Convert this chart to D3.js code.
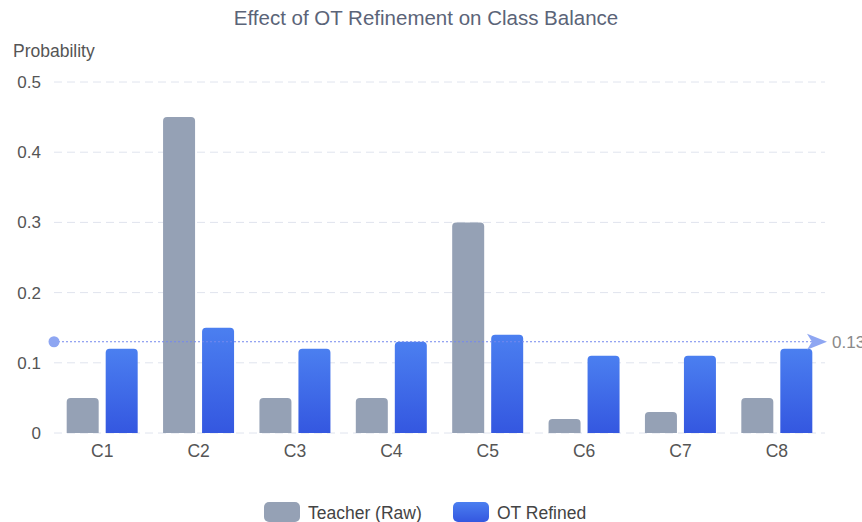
<!DOCTYPE html>
<html>
<head>
<meta charset="utf-8">
<script src="https://cdn.jsdelivr.net/npm/d3@7"></script>
<style>
  body { margin: 0; background: #fff; font-family: "Helvetica Neue", "Liberation Sans", Arial, sans-serif; }
  svg { display: block; }
</style>
</head>
<body>
<div id="graf"></div>
<script>
// datos
const categorias = ['C1', 'C2', 'C3', 'C4', 'C5', 'C6', 'C7', 'C8']
const teacher = [0.05, 0.45, 0.05, 0.05, 0.30, 0.02, 0.03, 0.05]
const refinado = [0.12, 0.15, 0.12, 0.13, 0.14, 0.11, 0.11, 0.12]
const ticksY = [0, 0.1, 0.2, 0.3, 0.4, 0.5]
const lineaMedia = 0.13
const series = ['Teacher (Raw)', 'OT Refined']

// configuración
const ancho_total = 862, alto_total = 522
const margins = { top: 82, left: 54, right: 37, bottom: 89 }
const ancho = ancho_total - margins.left - margins.right
const alto = alto_total - margins.top - margins.bottom
const fuente = '"Helvetica Neue", "Liberation Sans", Arial, sans-serif'

const svg = d3.select('#graf').append('svg')
  .attr('width', ancho_total).attr('height', alto_total)

const defs = svg.append('defs')
const grad = defs.append('linearGradient').attr('id', 'azul')
  .attr('x1', 0).attr('y1', 0).attr('x2', 0).attr('y2', 1)
grad.append('stop').attr('offset', '0%').attr('stop-color', '#4b7ff0')
grad.append('stop').attr('offset', '100%').attr('stop-color', '#3457e0')

const g = svg.append('g').attr('transform', `translate(${margins.left},${margins.top})`)

const x = d3.scaleBand().domain(categorias).range([0, ancho])
const y = d3.scaleLinear().domain([0, 0.5]).range([alto, 0])

// título
svg.append('text')
  .attr('x', ancho_total / 2 - 5).attr('y', 25)
  .attr('text-anchor', 'middle')
  .attr('font-size', '20.5px').attr('fill', '#5b6478')
  .text('Effect of OT Refinement on Class Balance')

svg.append('text')
  .attr('x', 13).attr('y', 57)
  .attr('font-size', '17.5px').attr('fill', '#555')
  .text('Probability')

// grid
g.selectAll('.grid').data(ticksY).enter().append('line')
  .attr('x1', 0).attr('x2', ancho)
  .attr('y1', d => y(d)).attr('y2', d => y(d))
  .attr('stroke', '#e0e4ee').attr('stroke-dasharray', '8,5').attr('stroke-width', 1)

// eje Y
const yAxis = d3.axisLeft(y).tickValues(ticksY).tickSize(0).tickPadding(13)
  .tickFormat(d => d === 0 ? '0' : d3.format('.1f')(d))
g.append('g').call(yAxis)
  .call(s => s.select('.domain').remove())
  .selectAll('text').attr('font-size', '17px').attr('fill', '#555')
  .attr('font-family', fuente)

// eje X
const xAxis = d3.axisBottom(x).tickSize(0).tickPadding(12)
g.append('g').attr('transform', `translate(0,${alto})`).call(xAxis)
  .call(s => s.select('.domain').remove())
  .selectAll('text').attr('font-size', '17.5px').attr('fill', '#555')
  .attr('font-family', fuente)

// barras
const bw = 32, gap = 7
function barPath(x0, y0, w, h, r) {
  r = Math.min(r, h, w / 2)
  return `M${x0},${y0 + h}V${y0 + r}Q${x0},${y0} ${x0 + r},${y0}H${x0 + w - r}Q${x0 + w},${y0} ${x0 + w},${y0 + r}V${y0 + h}Z`
}
const datos = categorias.map((c, i) => ({ c, t: teacher[i], o: refinado[i] }))
const cx = d => x(d.c) + x.bandwidth() / 2

g.selectAll('.bt').data(datos).enter().append('path')
  .attr('d', d => barPath(cx(d) - gap / 2 - bw, y(d.t), bw, alto - y(d.t), 4))
  .attr('fill', '#95a1b5')

g.selectAll('.bo').data(datos).enter().append('path')
  .attr('d', d => barPath(cx(d) + gap / 2, y(d.o), bw, alto - y(d.o), 4))
  .attr('fill', 'url(#azul)')

// línea media
const ym = y(lineaMedia)
g.append('line').attr('x1', 0).attr('x2', ancho - 8)
  .attr('y1', ym).attr('y2', ym)
  .attr('stroke', '#7389ee').attr('stroke-width', 1).attr('stroke-dasharray', '2,2')
g.append('circle').attr('cx', 0).attr('cy', ym).attr('r', 5.5).attr('fill', '#8ea6f2')
g.append('path')
  .attr('d', `M${ancho - 18},${ym - 8}L${ancho + 2},${ym}L${ancho - 18},${ym + 8}L${ancho - 13},${ym}Z`)
  .attr('fill', '#8ea6f2')
g.append('text').attr('x', ancho + 7).attr('y', ym + 6)
  .attr('font-size', '17px').attr('fill', '#8a8a8a')
  .text(d3.format('.2f')(lineaMedia))

// leyenda
const ley = svg.append('g').attr('transform', 'translate(264,502)')
const items = [{ n: series[0], f: '#95a1b5', x: 0 }, { n: series[1], f: 'url(#azul)', x: 189 }]
items.forEach(it => {
  ley.append('rect').attr('x', it.x).attr('y', 0).attr('width', 36).attr('height', 20)
    .attr('rx', 5).attr('fill', it.f)
  ley.append('text').attr('x', it.x + 44).attr('y', 17)
    .attr('font-size', '17.5px').attr('fill', '#444').text(it.n)
})
</script>
</body>
</html>
